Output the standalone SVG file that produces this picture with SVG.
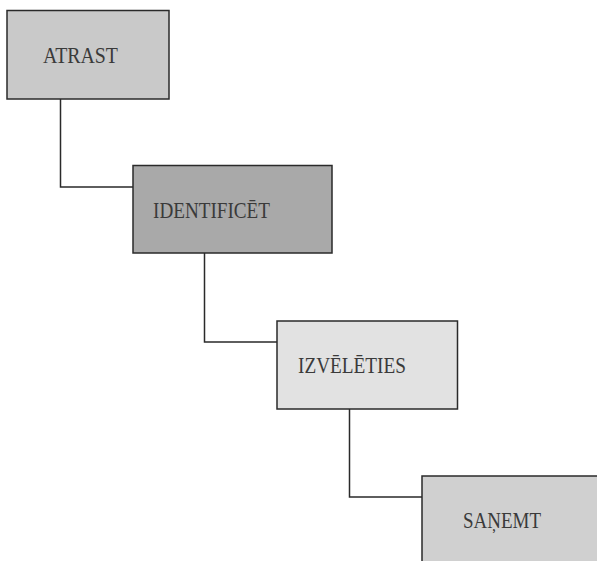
<svg xmlns="http://www.w3.org/2000/svg" width="597" height="561" viewBox="0 0 597 561">
<style>
.box{stroke:#2a2a2a;stroke-width:1.5}
.lbl{font-family:"Liberation Serif","Times New Roman",serif;font-size:24px;fill:#3a3a3a}
.conn{fill:none;stroke:#2a2a2a;stroke-width:1.5}
</style>
<rect width="597" height="561" fill="#fff"/>
<g id="connectors">
<polyline class="conn" points="60.5,99 60.5,187 133,187"/>
<polyline class="conn" points="204.5,253 204.5,342 277,342"/>
<polyline class="conn" points="349.5,409 349.5,497 422,497"/>
</g>
<g id="atrast">
<rect class="box" x="7" y="10.5" width="162" height="88.5" fill="#c9c9c9"/>
<text class="lbl" x="43" y="63" textLength="75" lengthAdjust="spacingAndGlyphs">ATRAST</text>
</g>
<g id="identificet">
<rect class="box" x="133" y="165.5" width="199" height="87.5" fill="#a9a9a9"/>
<text class="lbl" x="153" y="218" textLength="117" lengthAdjust="spacingAndGlyphs">IDENTIFICĒT</text>
</g>
<g id="izveleties">
<rect class="box" x="277" y="321" width="180.5" height="88" fill="#e2e2e2"/>
<text class="lbl" x="298" y="373" textLength="108" lengthAdjust="spacingAndGlyphs">IZVĒLĒTIES</text>
</g>
<g id="sanemt">
<rect class="box" x="422" y="476" width="176" height="90" fill="#d0d0d0"/>
<text class="lbl" x="463" y="528" textLength="78" lengthAdjust="spacingAndGlyphs">SAŅEMT</text>
</g>
</svg>
